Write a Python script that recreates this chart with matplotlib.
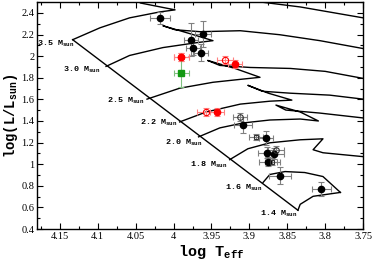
import matplotlib
matplotlib.use("Agg")
import matplotlib.pyplot as plt
from matplotlib.ticker import MultipleLocator

plt.rcParams['mathtext.default'] = 'regular'

# evolutionary tracks (log Teff, log L)
zams_t = [4.133, 3.836]
zams_l = [2.152, 0.574]

trk_35_t = [4.133, 4.097, 4.058, 4.018, 3.998, 4.044, 4.031, 3.965, 3.906, 3.833, 3.750]
trk_35_l = [2.152, 2.262, 2.354, 2.409, 2.428, 2.492, 2.538, 2.565, 2.519, 2.455, 2.354]
trk_30_t = [4.089, 4.058, 4.014, 3.969, 3.948, 3.978, 4.014, 3.998, 3.965, 3.912, 3.860, 3.807, 3.750]
trk_30_l = [1.905, 2.006, 2.079, 2.125, 2.143, 2.207, 2.281, 2.244, 2.226, 2.235, 2.198, 2.143, 2.070]
trk_25_t = [4.035, 3.992, 3.948, 3.912, 3.886, 3.919, 3.955, 3.939, 3.899, 3.846, 3.800, 3.750]
trk_25_l = [1.602, 1.703, 1.758, 1.785, 1.804, 1.886, 1.960, 1.914, 1.895, 1.886, 1.859, 1.794]
trk_22_t = [3.992, 3.957, 3.912, 3.873, 3.844, 3.875, 3.902, 3.883, 3.846, 3.794, 3.750]
trk_22_l = [1.391, 1.483, 1.556, 1.583, 1.593, 1.657, 1.730, 1.675, 1.657, 1.639, 1.602]
trk_20_t = [3.967, 3.939, 3.908, 3.873, 3.833, 3.809, 3.833, 3.865, 3.852, 3.807, 3.750]
trk_20_l = [1.253, 1.336, 1.382, 1.409, 1.418, 1.400, 1.483, 1.547, 1.501, 1.473, 1.428]
trk_18_t = [3.926, 3.902, 3.873, 3.833, 3.803, 3.816, 3.803, 3.750]
trk_18_l = [1.042, 1.143, 1.198, 1.226, 1.235, 1.134, 1.106, 1.070]
trk_16_t = [3.882, 3.873, 3.853, 3.827, 3.803, 3.780]
trk_16_l = [0.831, 0.905, 0.932, 0.923, 0.886, 0.739]
trk_14_t = [3.836, 3.833, 3.816, 3.780]
trk_14_l = [0.574, 0.629, 0.703, 0.739]

mass_labels = ['3.5', '3.0', '2.5', '2.2', '2.0', '1.8', '1.6', '1.4']
mass_lab_t = [4.180, 4.146, 4.088, 4.044, 4.011, 3.978, 3.932, 3.886]
mass_lab_l = [2.116, 1.877, 1.583, 1.382, 1.198, 0.996, 0.785, 0.538]

# stars: black filled
blk_t = [4.018, 3.977, 3.961, 3.974, 3.964, 3.908, 3.878, 3.877, 3.867, 3.875, 3.860, 3.805]
blk_l = [2.354, 2.152, 2.207, 2.079, 2.033, 1.363, 1.244, 1.106, 1.097, 1.024, 0.895, 0.767]
blk_xe = [0.013, 0.009, 0.011, 0.009, 0.009, 0.012, 0.009, 0.012, 0.012, 0.012, 0.0145, 0.012]
blk_ye = [0.055, 0.15, 0.12, 0.07, 0.08, 0.07, 0.064, 0.05, 0.05, 0.04, 0.075, 0.064]
# black open circles
bo_t = [3.912, 3.865]
bo_l = [1.437, 1.134]
bo_xe = [0.009, 0.010]
bo_ye = [0.037, 0.037]
# black open squares
bs_t = [3.891, 3.870]
bs_l = [1.253, 1.024]
bs_xe = [0.009, 0.010]
bs_ye = [0.03, 0.03]
# red filled / open
rf_t = [3.990, 3.919, 3.943]
rf_l = [1.996, 1.923, 1.483]
rf_xe = [0.010, 0.009, 0.009]
rf_ye = [0.037, 0.037, 0.037]
ro_t = [3.990, 3.932, 3.957]
ro_l = [1.996, 1.960, 1.483]
ro_xe = [0.010, 0.011, 0.012]
ro_ye = [0.037, 0.037, 0.04]
# green square
gs_t = [3.990]
gs_l = [1.840]
gs_xe = [0.010]
gs_ye = [0.13]

fig = plt.figure(figsize=(3.74, 2.6), dpi=100)
ax = fig.add_axes([0.099, 0.119, 0.872, 0.873])

ax.plot(zams_t, zams_l, color='black', lw=1.0)
for tt, ll in [(trk_35_t, trk_35_l), (trk_30_t, trk_30_l), (trk_25_t, trk_25_l),
               (trk_22_t, trk_22_l), (trk_20_t, trk_20_l), (trk_18_t, trk_18_l),
               (trk_16_t, trk_16_l), (trk_14_t, trk_14_l)]:
    ax.plot(tt, ll, color='black', lw=1.0)

for m, t, l in zip(mass_labels, mass_lab_t, mass_lab_l):
    ax.text(t, l, m + ' M$_{sun}$', family='Liberation Mono', weight='bold',
            fontsize=6, ha='left', va='center')

ek = dict(ls='none', capsize=2, elinewidth=0.8, capthick=0.8)
ax.errorbar(blk_t, blk_l, xerr=blk_xe, yerr=blk_ye, fmt='o', color='black',
            ecolor='gray', ms=4.5, **ek)
ax.errorbar(bo_t, bo_l, xerr=bo_xe, yerr=bo_ye, fmt='o', mfc='none', mec='#333333',
            mew=0.8, ecolor='gray', ms=4, **ek)
ax.errorbar(bs_t, bs_l, xerr=bs_xe, yerr=bs_ye, fmt='s', mfc='none', mec='#333333',
            mew=0.8, ecolor='gray', ms=3.5, **ek)
ax.errorbar(ro_t, ro_l, xerr=ro_xe, yerr=ro_ye, fmt='o', mfc='none', mec='red',
            mew=0.8, ecolor='#ff8080', ms=4.5, **ek)
ax.errorbar(rf_t, rf_l, xerr=rf_xe, yerr=rf_ye, fmt='o', color='red',
            ecolor='#ff8080', ms=4.5, **ek)
ax.errorbar(gs_t, gs_l, xerr=gs_xe, yerr=gs_ye, fmt='s', color='#119911',
            ecolor='#80c080', ms=4, **ek)

ax.set_xlim(4.18, 3.75)
ax.set_ylim(0.4, 2.5)

xt = [4.15, 4.1, 4.05, 4.0, 3.95, 3.9, 3.85, 3.8, 3.75]
xtl = ['4.15', '4.1', '4.05', '4', '3.95', '3.9', '3.85', '3.8', '3.75']
yt = [0.4, 0.6, 0.8, 1.0, 1.2, 1.4, 1.6, 1.8, 2.0, 2.2, 2.4]
ytl = ['0.4', '0.6', '0.8', '1', '1.2', '1.4', '1.6', '1.8', '2', '2.2', '2.4']
ax.set_xticks(xt)
ax.set_xticklabels(xtl, family='Liberation Serif', fontsize=7.5)
ax.set_yticks(yt)
ax.set_yticklabels(ytl, family='Liberation Serif', fontsize=7.5)
ax.xaxis.set_minor_locator(MultipleLocator(0.025))
ax.yaxis.set_minor_locator(MultipleLocator(0.1))
ax.tick_params(which='both', direction='in', top=True, right=True, pad=2)
ax.tick_params(which='major', length=4, width=0.8)
ax.tick_params(which='minor', length=2, width=0.8)
for s in ax.spines.values():
    s.set_linewidth(1.0)

ax.set_xlabel('log T$_{eff}$', family='Liberation Mono', weight='bold', fontsize=11)
ax.xaxis.set_label_coords(0.535, -0.06)
ax.set_ylabel('log(L/L$_{sun}$)', family='Liberation Mono', weight='bold', fontsize=10, labelpad=1)

fig.savefig('out.png', dpi=100)
